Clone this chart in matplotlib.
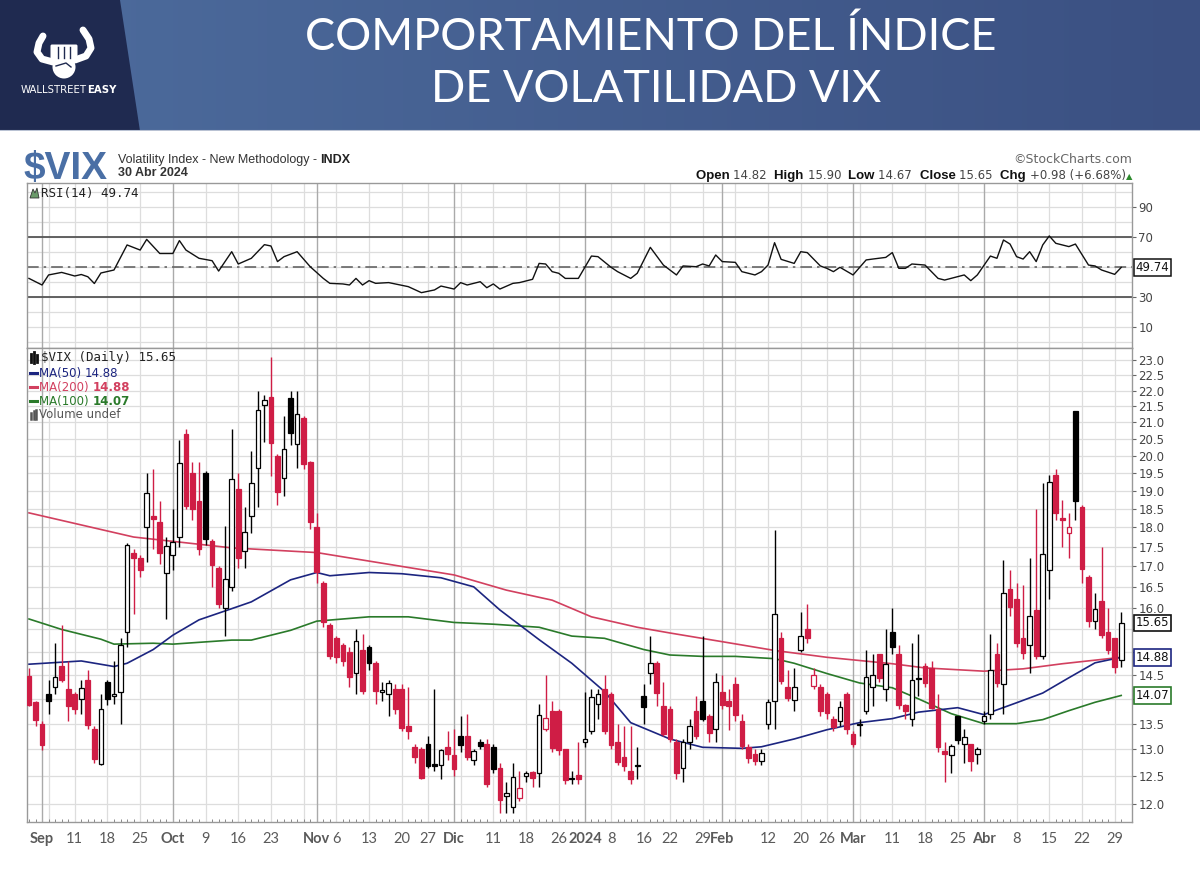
import numpy as np
import pandas as pd
import matplotlib
matplotlib.use("Agg")
import matplotlib.pyplot as plt
from matplotlib.transforms import IdentityTransform
from matplotlib.lines import Line2D
from matplotlib.patches import Polygon, Circle, FancyBboxPatch
from matplotlib.colors import LinearSegmentedColormap

# ---------------- data ----------------
holidays = ['2023-09-04', '2023-11-23', '2023-12-25', '2024-01-01',
            '2024-01-15', '2024-02-19', '2024-03-29']
dates = pd.bdate_range('2023-08-30', '2024-04-30', freq='C', holidays=holidays)

opens = [14.48, 13.93, 13.50, 14.10, 14.25, 14.70, 14.20, 14.10, 14.00, 14.40,
         13.40, 12.72, 14.35, 14.05, 14.15, 15.45, 17.35, 17.20, 18.00, 18.30,
         18.15, 16.85, 17.30, 17.75, 20.65, 19.50, 18.70, 19.50, 17.65, 16.95,
         16.00, 16.50, 19.05, 17.40, 18.30, 19.65, 21.55, 21.80, 20.00, 19.35,
         21.75, 20.35, 21.15, 19.80, 18.00, 16.60, 15.60, 15.30, 15.15, 15.00,
         14.55, 15.05, 15.10, 14.75, 14.15, 14.10, 14.20, 14.20, 13.45, 13.05,
         13.00, 13.10, 12.72, 12.70, 13.05, 12.90, 13.25, 13.25, 12.80, 13.15,
         13.10, 13.05, 12.65, 12.15, 11.95, 12.10, 12.50, 12.58, 12.55, 13.40,
         13.75, 13.75, 13.00, 12.45, 12.52, 13.15, 13.35, 13.90, 14.20, 14.10,
         13.15, 12.85, 12.60, 12.68, 14.05, 14.55, 14.75, 13.85, 13.80, 13.15,
         12.65, 13.15, 13.75, 13.95, 13.65, 13.40, 14.15, 13.95, 14.30, 13.55,
         13.05, 12.92, 12.78, 13.50, 13.95, 15.30, 14.25, 13.98, 15.05, 15.50,
         14.27, 14.25, 14.10, 13.60, 13.55, 14.10, 13.30, 13.48, 13.75, 14.25,
         14.95, 14.20, 15.45, 14.95, 13.87, 13.60, 14.44, 14.70, 14.65, 13.80,
         12.97, 12.90, 13.65, 13.10, 13.10, 12.92, 13.55, 13.70, 14.95, 14.30,
         16.45, 16.20, 15.30, 15.15, 15.95, 14.90, 16.90, 19.45, 18.25, 17.85,
         21.36, 18.55, 16.75, 15.70, 16.15, 15.45, 15.30, 14.82]
highs = [14.65, 13.95, 13.55, 14.40, 15.20, 15.60, 14.80, 14.15, 14.40, 14.60,
         13.45, 14.10, 14.40, 14.80, 15.30, 17.60, 17.45, 17.30, 19.50, 19.60,
         18.70, 17.75, 18.50, 20.45, 20.80, 19.80, 19.80, 19.55, 17.70, 17.00,
         18.05, 20.80, 19.50, 18.55, 20.15, 22.00, 21.85, 23.10, 20.05, 21.20,
         22.00, 22.00, 21.20, 19.85, 18.40, 16.65, 15.65, 15.35, 15.20, 15.10,
         15.50, 15.40, 15.15, 14.80, 14.35, 14.40, 14.30, 14.30, 14.25, 13.10,
         13.05, 13.25, 14.20, 13.00, 13.35, 13.40, 13.65, 13.70, 13.00, 13.20,
         13.20, 13.10, 12.75, 12.40, 12.75, 12.60, 12.60, 12.60, 13.90, 14.50,
         13.95, 13.80, 13.00, 12.60, 13.15, 14.15, 14.20, 14.20, 14.50, 14.15,
         13.50, 13.45, 13.45, 13.05, 14.30, 15.35, 14.80, 14.35, 13.85, 13.20,
         13.20, 13.60, 14.05, 15.35, 13.70, 14.55, 14.50, 14.20, 14.45, 13.70,
         13.10, 13.00, 13.00, 14.00, 17.94, 15.45, 14.60, 14.65, 15.90, 16.10,
         14.65, 14.30, 14.15, 13.65, 13.95, 14.15, 13.35, 13.60, 15.05, 14.95,
         14.95, 15.50, 16.00, 15.15, 13.90, 15.20, 15.40, 14.75, 14.80, 14.10,
         13.15, 13.10, 13.65, 13.40, 13.10, 13.05, 13.75, 15.40, 15.20, 17.15,
         16.90, 16.60, 16.55, 17.20, 18.50, 19.20, 19.45, 19.60, 18.75, 18.40,
         21.36, 18.60, 16.80, 16.35, 17.50, 16.00, 15.30, 15.90]
lows = [13.85, 13.45, 12.98, 13.70, 14.10, 14.35, 13.55, 13.70, 13.70, 13.40,
        12.75, 12.70, 13.88, 13.90, 13.50, 15.10, 15.85, 16.75, 17.10, 17.45,
        17.05, 15.75, 16.90, 17.50, 18.50, 18.20, 17.30, 17.55, 16.50, 16.00,
        15.35, 16.40, 16.95, 16.95, 17.85, 18.55, 20.40, 19.40, 18.60, 18.85,
        20.30, 19.65, 19.60, 17.95, 16.60, 15.55, 14.85, 14.75, 14.70, 14.25,
        14.10, 14.10, 14.60, 13.90, 13.95, 13.65, 13.70, 13.35, 13.20, 12.75,
        12.44, 12.65, 12.60, 12.45, 12.80, 12.50, 12.95, 12.80, 12.70, 13.00,
        12.30, 12.55, 11.85, 11.85, 11.85, 12.05, 12.40, 12.30, 12.30, 13.35,
        12.95, 12.90, 12.35, 12.35, 12.35, 13.05, 13.30, 13.60, 13.30, 13.00,
        12.70, 12.60, 12.35, 12.45, 13.50, 14.30, 13.85, 13.25, 13.15, 12.45,
        12.40, 13.00, 13.20, 13.55, 13.15, 13.15, 13.80, 13.38, 13.55, 13.00,
        12.75, 12.70, 12.70, 13.40, 13.40, 14.30, 13.95, 13.75, 15.00, 15.20,
        14.20, 13.65, 13.60, 13.35, 13.45, 13.30, 13.05, 13.25, 13.70, 13.85,
        14.35, 13.95, 14.95, 13.80, 13.60, 13.45, 14.05, 14.25, 13.80, 12.95,
        12.40, 12.55, 13.10, 12.75, 12.60, 12.72, 13.50, 13.60, 14.25, 13.70,
        15.80, 15.10, 14.85, 14.55, 14.85, 14.85, 16.20, 18.20, 17.50, 17.20,
        18.20, 16.60, 15.55, 15.50, 15.30, 14.95, 14.55, 14.67]
closes = [13.88, 13.57, 13.09, 13.95, 14.45, 14.40, 13.85, 13.80, 14.23, 13.48,
          12.82, 13.79, 14.00, 14.11, 15.14, 17.54, 17.20, 16.90, 18.94, 18.22,
          17.34, 17.52, 17.61, 19.78, 18.58, 18.49, 17.45, 17.70, 17.03, 16.09,
          16.69, 19.32, 17.21, 17.88, 19.22, 21.40, 21.71, 20.37, 18.97, 20.19,
          20.68, 21.27, 19.75, 18.14, 16.87, 15.66, 14.91, 14.89, 14.81, 14.45,
          15.25, 14.17, 14.76, 14.16, 14.18, 14.32, 13.80, 13.41, 13.35, 12.85,
          12.46, 12.69, 12.69, 12.98, 12.92, 12.63, 13.08, 12.85, 12.97, 13.06,
          12.35, 12.63, 12.07, 12.19, 12.48, 12.28, 12.56, 12.47, 13.67, 13.62,
          13.03, 12.99, 12.43, 12.47, 12.45, 13.20, 14.04, 14.10, 13.35, 13.08,
          12.76, 12.69, 12.44, 12.70, 13.84, 14.75, 14.13, 13.30, 13.20, 12.55,
          13.14, 13.45, 13.26, 13.60, 13.31, 14.35, 13.88, 13.85, 13.67, 13.06,
          12.83, 12.79, 12.93, 13.93, 15.85, 14.38, 14.01, 14.24, 15.35, 15.30,
          14.50, 13.75, 13.72, 13.43, 13.84, 13.40, 13.11, 13.49, 14.46, 14.50,
          14.44, 14.74, 15.10, 13.88, 13.75, 14.40, 14.41, 14.33, 13.82, 13.04,
          12.92, 13.06, 13.19, 13.24, 12.78, 13.01, 13.65, 14.61, 14.33, 16.35,
          16.03, 15.19, 14.98, 15.80, 14.91, 17.31, 19.23, 18.40, 18.21, 18.00,
          18.71, 16.94, 15.69, 15.97, 15.37, 15.03, 14.67, 15.65]

ma50_day = [0, 8, 13, 15, 19, 22, 26, 31, 34, 40, 44, 46, 52, 57, 63, 68, 72, 78, 83,
            88, 92, 98, 103, 109, 112, 117, 122, 127, 132, 136, 142, 146, 151, 155,
            159, 163, 167]
ma50_val = [14.73, 14.80, 14.68, 14.75, 15.05, 15.37, 15.72, 15.98, 16.14, 16.67,
            16.85, 16.77, 16.85, 16.82, 16.72, 16.50, 15.95, 15.27, 14.75, 14.15,
            13.52, 13.20, 13.04, 13.02, 13.05, 13.20, 13.38, 13.52, 13.60, 13.73,
            13.82, 13.68, 13.92, 14.12, 14.44, 14.76, 14.88]
ma200_day = [0, 16, 31, 44, 65, 73, 80, 86, 93, 98, 107, 114, 122, 132, 137, 146,
             152, 158, 167]
ma200_val = [18.39, 17.75, 17.47, 17.35, 16.79, 16.42, 16.18, 15.79, 15.55, 15.42,
             15.20, 15.03, 14.88, 14.74, 14.65, 14.58, 14.63, 14.74, 14.88]
ma100_day = [0, 5, 11, 13, 19, 22, 31, 34, 40, 44, 52, 58, 65, 71, 78, 83, 88, 94,
             98, 103, 108, 114, 117, 122, 127, 132, 136, 141, 146, 151, 155, 159,
             163, 167]
ma100_val = [15.74, 15.50, 15.28, 15.17, 15.19, 15.17, 15.26, 15.26, 15.48, 15.69,
             15.79, 15.79, 15.66, 15.62, 15.55, 15.35, 15.30, 15.05, 14.93, 14.90,
             14.90, 14.85, 14.75, 14.53, 14.33, 14.23, 14.00, 13.70, 13.50, 13.50,
             13.58, 13.76, 13.93, 14.07]

rsi_day = [0, 2, 3, 5, 7, 8, 9, 10, 11, 13, 15, 17, 18, 20, 22, 23, 24, 26, 28, 29,
           31, 32, 34, 36, 37, 38, 39, 41, 43, 45, 46, 48, 49, 50, 51, 52, 53, 55,
           58, 60, 62, 63, 65, 66, 67, 69, 70, 71, 72, 74, 75, 77, 78, 79, 80, 81,
           82, 84, 86, 87, 89, 90, 92, 93, 95, 97, 99, 100, 102, 103, 104, 105,
           106, 108, 109, 111, 112, 113, 114, 115, 117, 118, 119, 121, 122, 123,
           124, 126, 128, 129, 131, 132, 133, 134, 135, 137, 139, 140, 143, 144,
           145, 147, 148, 149, 150, 151, 152, 153, 154, 155, 156, 157, 159, 160,
           162, 163, 164, 166, 167]
rsi_val = [42.4, 38.0, 44.7, 46.4, 44.0, 45.0, 43.5, 39.0, 46.0, 48.0, 64.7, 61.3,
           68.4, 59.0, 59.0, 67.6, 61.3, 55.8, 54.2, 47.3, 60.2, 52.0, 55.8, 64.9,
           64.0, 53.6, 56.9, 60.2, 50.2, 42.4, 39.1, 38.7, 38.0, 42.4, 38.0, 40.9,
           39.1, 39.6, 36.9, 32.9, 34.7, 37.3, 35.3, 39.6, 38.0, 40.2, 36.2, 38.7,
           35.3, 39.1, 39.6, 41.8, 52.4, 52.0, 46.9, 45.8, 42.4, 42.4, 57.3, 56.9,
           49.8, 46.9, 42.4, 45.8, 63.1, 51.3, 44.7, 50.7, 50.2, 52.0, 50.7, 58.0,
           53.6, 53.1, 46.9, 44.7, 46.9, 51.3, 66.2, 55.1, 52.4, 60.2, 59.6, 50.7,
           49.1, 46.9, 49.8, 44.7, 54.7, 55.3, 56.4, 59.6, 49.1, 49.1, 52.0, 51.3,
           42.4, 41.3, 44.7, 40.9, 44.7, 57.3, 55.8, 68.0, 65.3, 56.9, 55.3, 60.2,
           53.6, 64.7, 70.7, 65.8, 63.6, 65.3, 51.3, 50.7, 48.0, 45.1, 49.74]

xlabel_dates = ['2023-09-01', '2023-09-11', '2023-09-18', '2023-09-25', '2023-10-02',
                '2023-10-09', '2023-10-16', '2023-10-23', '2023-11-01', '2023-11-06',
                '2023-11-13', '2023-11-20', '2023-11-27', '2023-12-01', '2023-12-11',
                '2023-12-18', '2023-12-26', '2024-01-02', '2024-01-08', '2024-01-16',
                '2024-01-22', '2024-01-29', '2024-02-01', '2024-02-12', '2024-02-20',
                '2024-02-26', '2024-03-01', '2024-03-11', '2024-03-18', '2024-03-25',
                '2024-04-01', '2024-04-08', '2024-04-15', '2024-04-22', '2024-04-29']
xlabel_text = ['Sep', '11', '18', '25', 'Oct', '9', '16', '23', 'Nov', '6', '13', '20',
               '27', 'Dic', '11', '18', '26', '2024', '8', '16', '22', '29', 'Feb',
               '12', '20', '26', 'Mar', '11', '18', '25', 'Abr', '8', '15', '22', '29']
xlabel_bold = ['Sep', 'Oct', 'Nov', 'Dic', '2024', 'Feb', 'Mar', 'Abr']

price_ticks = [12.0, 12.5, 13.0, 13.5, 14.0, 14.5, 15.0, 15.5, 16.0, 16.5, 17.0, 17.5,
               18.0, 18.5, 19.0, 19.5, 20.0, 20.5, 21.0, 21.5, 22.0, 22.5, 23.0]
price_hidden = [14.0, 15.0, 15.5]
rsi_ticks = [90, 70, 30, 10]

last_close = 15.65
last_ma50 = 14.88
last_ma200 = 14.88
last_ma100 = 14.07
last_rsi = 49.74

# ---------------- styling ----------------
W, H = 1200, 873
RED = '#cf1d45'
NAVY = '#1c2580'
MA200C = '#d2405f'
GREEN = '#2a7a2a'
GRID = '#dddddd'
MGRID = '#aaaaaa'

fig = plt.figure(figsize=(12, 8.73), dpi=100)
fig.patch.set_facecolor('white')


def py(y):
    return H - y


def fx(x):
    return x / W


def fy(y):
    return 1 - y / H

# ---------------- header ----------------
hax = fig.add_axes([0, 1 - 131 / H, 1, 131 / H])
hax.set_xlim(0, W)
hax.set_ylim(131, 0)
hax.axis('off')
cmap = LinearSegmentedColormap.from_list('b', ['#4d6c9d', '#3b5082'])
hax.imshow(np.linspace(0, 1, 256).reshape(1, -1), cmap=cmap, extent=[0, W, 131, 0],
           aspect='auto', zorder=0)
hax.add_patch(Polygon([(0, 0), (120, 0), (140, 131), (0, 131)], closed=True,
                      fc='#1f2a50', ec='none', zorder=1))
hax.plot([0, W], [130.5, 130.5], color='#b9c2d3', lw=1.5, zorder=2)
# logo
hax.plot([53, 42, 37, 39, 43], [62, 59, 52, 43, 36], color='white', lw=5,
         solid_capstyle='round', zorder=3)
hax.plot([75, 86, 91, 89, 83], [60, 56, 48, 39, 30], color='white', lw=5,
         solid_capstyle='round', zorder=3)
hax.add_patch(Circle((64, 67), 11.5, fc='white', ec='none', zorder=3))
hax.add_patch(FancyBboxPatch((52, 46), 24, 15, boxstyle='round,pad=1.5',
                             fc='white', ec='none', zorder=3))
for xx in [58, 64, 70]:
    hax.plot([xx, xx], [47, 58], color='#1f2a50', lw=1.0, zorder=4)
hax.plot([56, 66, 71], [66, 63, 67], color='#1f2a50', lw=1.0, zorder=4)
hax.text(87, 90, 'WALLSTREET', color='white', fontsize=7.3, ha='right', va='center',
         family='Liberation Sans Narrow', zorder=5)
hax.text(87, 90, 'EASY', color='white', fontsize=7.3, ha='left', va='center',
         weight='bold', family='Liberation Sans Narrow', zorder=5)
hax.text(651, 37, 'COMPORTAMIENTO DEL ÍNDICE', color='white', fontsize=32.5,
         ha='center', va='center', family='Lato', weight='normal', zorder=5)
hax.text(656, 89, 'DE VOLATILIDAD VIX', color='white', fontsize=32.5,
         ha='center', va='center', family='Lato', weight='normal', zorder=5)

# ---------------- top chart text ----------------
fig.text(fx(23), fy(179), '$VIX', fontsize=28, weight='bold', color='#4a6fa5',
         family='Liberation Sans', va='baseline')
r = fig.canvas.get_renderer()


def seq(x0, y0, pieces, align='left'):
    arts = []
    for s, kw in pieces:
        t = fig.text(0, 0, s, transform=IdentityTransform(), va='baseline', **kw)
        arts.append(t)
    widths = [t.get_window_extent(r).width for t in arts]
    x = x0 if align == 'left' else x0 - sum(widths)
    for t, w in zip(arts, widths):
        t.set_position((x, py(y0)))
        x += w


seq(118, 163, [('Volatility Index - New Methodology - ',
                dict(fontsize=9, color='#333333', family='Liberation Sans')),
               ('INDX', dict(fontsize=9, color='#222222', weight='bold',
                             family='Liberation Sans'))])
fig.text(fx(118), fy(176.5), '30 Abr 2024', fontsize=9, weight='bold', color='#333333',
         family='Liberation Sans', va='baseline')
fig.text(fx(1132), fy(163), '\u00a9StockCharts.com', fontsize=9, color='#666666',
         family='DejaVu Sans', ha='right', va='baseline')
lab = dict(fontsize=9.5, weight='bold', color='#111111', family='Liberation Sans')
val = dict(fontsize=8.5, color='#444444', family='DejaVu Sans')
seq(1132, 179, [('Open ', lab), ('14.82  ', val), ('High ', lab), ('15.90  ', val),
                ('Low ', lab), ('14.67  ', val), ('Close ', lab), ('15.65  ', val),
                ('Chg ', lab), ('+0.98 (+6.68%)', val),
                ('\u25b2', dict(fontsize=6, color='#2e8b2e', family='DejaVu Sans'))],
    align='right')

# ---------------- axes ----------------
left, right = 27, 1132
ax_r = fig.add_axes([fx(left), fy(348), (right - left) / W, (348 - 183) / H])
ax_p = fig.add_axes([fx(left), fy(822), (right - left) / W, (822 - 348) / H])
n = len(dates)
xi = np.arange(n)
xlim = (-0.3, 168.65)

week_starts = [i for i in range(1, n) if dates[i].weekday() < dates[i - 1].weekday()]
month_starts = [i for i in range(1, n) if dates[i].month != dates[i - 1].month]

for ax in (ax_r, ax_p):
    ax.set_xlim(*xlim)
    for i in week_starts:
        if i not in month_starts:
            ax.axvline(i, color=GRID, lw=0.9, zorder=0)
    for i in month_starts:
        ax.axvline(i, color=MGRID, lw=1.0, zorder=0.5)
    for s in ax.spines.values():
        s.set_color('#999999')
        s.set_linewidth(1.0)
    ax.yaxis.tick_right()
    ax.tick_params(axis='y', which='major', length=3, width=0.8, color='#666666',
                   pad=1.5, labelsize=8.5, labelcolor='#444444')
    ax.tick_params(axis='y', which='minor', length=0)

# RSI panel
ax_r.set_ylim(-4, 106)
for v in range(0, 101, 10):
    ax_r.axhline(v, color=GRID, lw=0.9, zorder=0)
ax_r.axhline(70, color='#555555', lw=1.3, zorder=1)
ax_r.axhline(30, color='#555555', lw=1.3, zorder=1)
ax_r.axhline(50, color='#666666', lw=1.2, ls=(0, (7, 3, 1.5, 3)), zorder=1)
ax_r.plot(rsi_day, rsi_val, color='#111111', lw=1.0, zorder=3)
ax_r.set_yticks(rsi_ticks)
ax_r.set_yticklabels([str(t) for t in rsi_ticks])
ax_r.set_xticks([])
ax_r.text(1.003, last_rsi, f'{last_rsi:.2f}', transform=ax_r.get_yaxis_transform(),
          fontsize=8.5, va='center', ha='left', color='#111111', family='DejaVu Sans',
          bbox=dict(boxstyle='square,pad=0.15', fc='white', ec='#111111', lw=1.1),
          clip_on=False, zorder=6)

# price panel
ax_p.set_yscale('log')
ax_p.set_ylim(11.687, 23.42)
for v in price_ticks:
    ax_p.axhline(v, color=GRID, lw=0.9, zorder=0)
ax_p.set_yticks(price_ticks)
ax_p.set_yticklabels(['' if t in price_hidden else f'{t:.1f}' for t in price_ticks])
ax_p.yaxis.set_minor_locator(matplotlib.ticker.NullLocator())

ax_p.plot(ma200_day, ma200_val, color=MA200C, lw=1.2, zorder=2)
ax_p.plot(ma100_day, ma100_val, color=GREEN, lw=1.2, zorder=2)
ax_p.plot(ma50_day, ma50_val, color=NAVY, lw=1.2, zorder=2)

o = np.array(opens)
h = np.array(highs)
lo = np.array(lows)
c = np.array(closes)
prev = np.r_[o[0], c[:-1]]
col = np.where(c < prev, RED, '#000000')
face = np.where(c > o, '#ffffff', col)
ax_p.vlines(xi, lo, h, colors=col, lw=1.0, zorder=3)
bot = np.minimum(o, c)
top = np.maximum(o, c)
ax_p.bar(xi, top - bot, bottom=bot, width=0.72, color=face, edgecolor=col,
         linewidth=0.9, zorder=4)

# x ticks
lab_pos = [dates.get_loc(pd.Timestamp(d)) for d in xlabel_dates]
ax_p.set_xticks(lab_pos)
ax_p.set_xticklabels(xlabel_text)
ax_p.tick_params(axis='x', which='major', length=0, pad=7, labelsize=10.5,
                 labelcolor='#5a5a5a')
for t in ax_p.get_xticklabels():
    t.set_family('Lato')
    if t.get_text() in xlabel_bold:
        t.set_fontweight('bold')
ax_p.set_xticks(xi, minor=True)
ax_p.tick_params(axis='x', which='minor', length=2.5, direction='in', color='#888888',
                 width=0.7)

for v, ec in [(last_close, '#111111'), (last_ma50, NAVY), (last_ma100, GREEN)]:
    ax_p.text(1.003, v, f'{v:.2f}', transform=ax_p.get_yaxis_transform(),
              fontsize=8.5, va='center', ha='left', color='#111111', family='DejaVu Sans',
              bbox=dict(boxstyle='square,pad=0.15', fc='white', ec=ec, lw=1.2),
              clip_on=False, zorder=6)

# legends
fig.text(fx(41), fy(193), f'RSI(14) {last_rsi:.2f}', fontsize=9, color='#222222',
         family='DejaVu Sans Mono', va='center')
fig.add_artist(Polygon([(fx(30), fy(198)), (fx(33), fy(189)), (fx(35), fy(193)),
                        (fx(37), fy(188)), (fx(39), fy(198))], closed=True,
                       fc='#6a9a6a', ec='#333333', lw=0.6, transform=fig.transFigure))
fig.text(fx(41), fy(358), f'$VIX (Daily) {last_close:.2f}', fontsize=9, color='#222222',
         family='DejaVu Sans Mono', va='center')
for xx, y0, y1 in [(31, 354, 362), (34, 352, 363), (37, 355, 362)]:
    fig.add_artist(Line2D([fx(xx), fx(xx)], [fy(y0), fy(y1)], color='#111111', lw=2,
                          transform=fig.transFigure))
rows = [(373, NAVY, 'MA(50) ', f'{last_ma50:.2f}', 'normal'),
        (387, MA200C, 'MA(200) ', f'{last_ma200:.2f}', 'bold'),
        (401, GREEN, 'MA(100) ', f'{last_ma100:.2f}', 'bold')]
for y, cc, a, b, wgt in rows:
    fig.add_artist(Line2D([fx(30), fx(37)], [fy(y), fy(y)], color=cc, lw=2.2,
                          transform=fig.transFigure))
    seq(39, y + 4, [(a, dict(fontsize=8.5, color=cc, family='DejaVu Sans')),
                    (b, dict(fontsize=8.5, color=cc, weight=wgt, family='DejaVu Sans'))])
for xx, hh in [(31, 6), (33.5, 8), (36, 9)]:
    fig.add_artist(Line2D([fx(xx), fx(xx)], [fy(419), fy(419 - hh)], color='#555555',
                          lw=1.8, transform=fig.transFigure))
fig.text(fx(39), fy(415), 'Volume undef', fontsize=8.5, color='#555555',
         family='DejaVu Sans', va='center')

fig.savefig('out.png', dpi=100, facecolor='white')
